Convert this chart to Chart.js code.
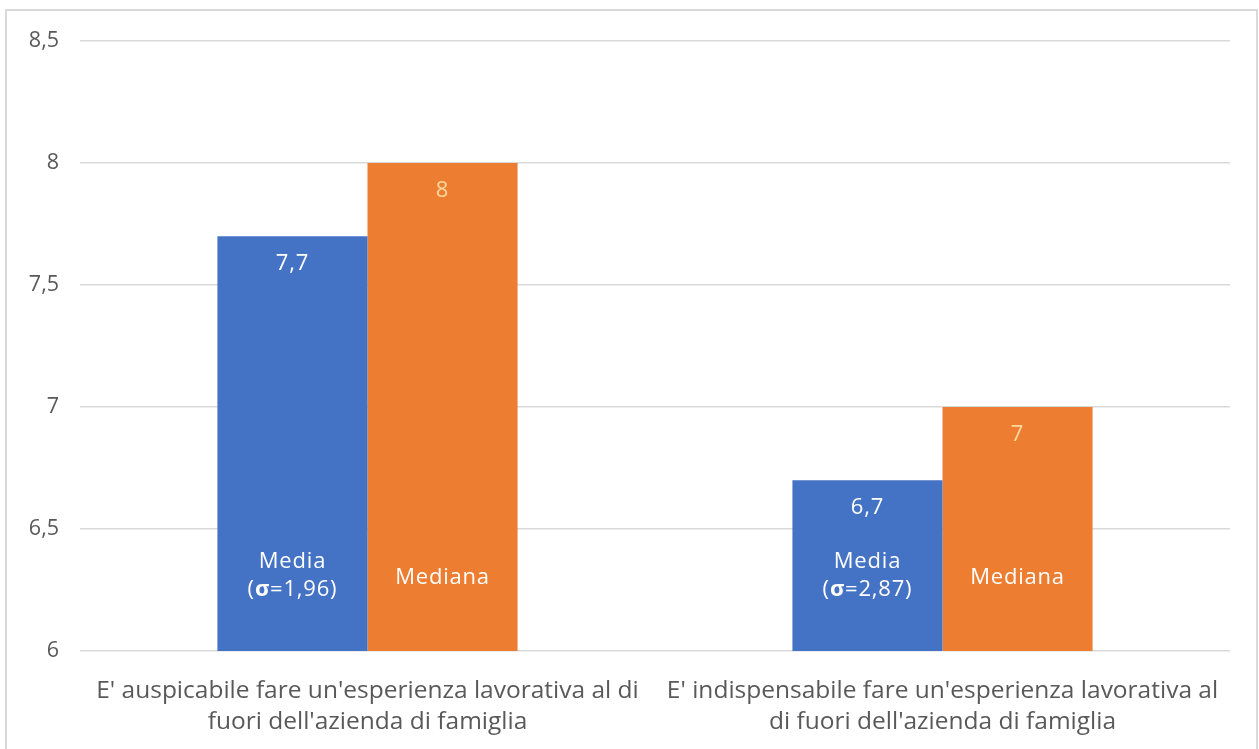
<!DOCTYPE html>
<html lang="it">
<head>
<meta charset="UTF-8">
<title>Esperienza lavorativa fuori dall'azienda di famiglia</title>
<script src="https://cdn.jsdelivr.net/npm/chart.js"></script>
<style>
    html, body { margin: 0; padding: 0; background: #fff; }
    #wrap { position: relative; width: 1259px; height: 749px; overflow: hidden; }
    #frame { position: absolute; left: 5px; top: 9px; width: 1253px; height: 760px; border: 2px solid #d9d9d9; box-sizing: border-box; }
    canvas { position: absolute; left: 0; top: 0; }
</style>
</head>
<body>
<div id="wrap">
    <div id="frame"></div>
    <canvas id="chart" width="1259" height="749"></canvas>
</div>
<script>
    const categories = [
        ["E' auspicabile fare un'esperienza lavorativa al di", "fuori dell'azienda di famiglia"],
        ["E' indispensabile fare un'esperienza lavorativa al", "di fuori dell'azienda di famiglia"]
    ];
    const media = [7.7, 6.7];
    const mediana = [8, 7];
    const sigma = ["1,96", "2,87"];
    const yTicks = [6, 6.5, 7, 7.5, 8, 8.5];

    const fmt = v => String(v).replace('.', ',');
    const labelFont = '"Open Sans", "DejaVu Sans", sans-serif';

    // value near the top of each bar plus the series name lower down
    const barText = {
        id: 'barText',
        afterDatasetsDraw(chart) {
            const ctx = chart.ctx;
            const base = chart.scales.y.getPixelForValue(6);
            ctx.save();
            ctx.textAlign = 'center';
            ctx.textBaseline = 'middle';
            ctx.letterSpacing = '0.8px';
            chart.data.datasets.forEach((ds, di) => {
                chart.getDatasetMeta(di).data.forEach((bar, i) => {
                    ctx.font = '22px ' + labelFont;
                    ctx.fillStyle = di === 0 ? '#ffffff' : 'rgba(255, 226, 170, 0.9)';
                    ctx.fillText(fmt(ds.data[i]), bar.x, bar.y + 28);

                    ctx.fillStyle = '#ffffff';
                    if (di === 0) {
                        ctx.font = '22px ' + labelFont;
                        ctx.fillText('Media', bar.x, base - 89);
                        // "(σ=x,xx)" with a bold sigma
                        const parts = [['(', false], ['σ', true], ['=' + sigma[i] + ')', false]];
                        let total = 0;
                        parts.forEach(p => {
                            ctx.font = (p[1] ? 'bold ' : '') + '22px ' + labelFont;
                            total += ctx.measureText(p[0]).width;
                        });
                        let x = bar.x - total / 2;
                        ctx.textAlign = 'left';
                        parts.forEach(p => {
                            ctx.font = (p[1] ? 'bold ' : '') + '22px ' + labelFont;
                            ctx.fillText(p[0], x, base - 61);
                            x += ctx.measureText(p[0]).width;
                        });
                        ctx.textAlign = 'center';
                    } else {
                        ctx.font = '22px ' + labelFont;
                        ctx.fillText('Mediana', bar.x, base - 73);
                    }
                });
            });
            ctx.restore();
        }
    };

    new Chart(document.getElementById('chart'), {
        type: 'bar',
        data: {
            labels: categories,
            datasets: [
                { label: 'Media', data: media, backgroundColor: '#4472c4' },
                { label: 'Mediana', data: mediana, backgroundColor: '#ed7d31' }
            ]
        },
        options: {
            responsive: false,
            animation: false,
            layout: { padding: { top: 41, right: 29, left: 0, bottom: 0 } },
            datasets: { bar: { barPercentage: 1, categoryPercentage: 0.522 } },
            plugins: { legend: { display: false }, tooltip: { enabled: false } },
            scales: {
                x: {
                    grid: { display: false },
                    border: { display: false },
                    ticks: {
                        color: '#595959',
                        font: { family: '"Open Sans", sans-serif', size: 24.5, lineHeight: 1.25 },
                        padding: 17,
                        maxRotation: 0
                    },
                    afterFit(scale) { scale.height = 98; }
                },
                y: {
                    min: 6,
                    max: 8.5,
                    afterBuildTicks(scale) { scale.ticks = yTicks.map(v => ({ value: v })); },
                    grid: { color: '#d9d9d9', lineWidth: 1.5, drawTicks: false },
                    border: { display: false },
                    ticks: {
                        color: '#595959',
                        font: { family: '"Open Sans", sans-serif', size: 21.5 },
                        padding: 21,
                        callback: v => fmt(v)
                    },
                    afterFit(scale) { scale.width = 80; }
                }
            }
        },
        plugins: [barText]
    });
</script>
</body>
</html>
